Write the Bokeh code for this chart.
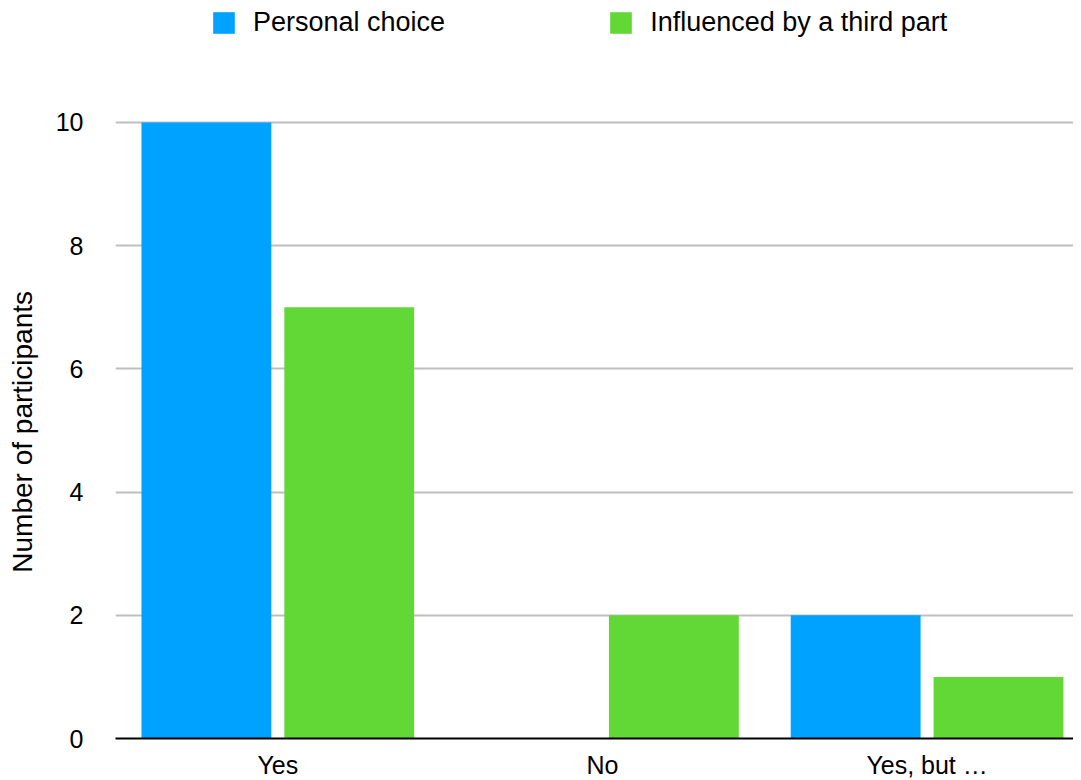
from bokeh.plotting import figure
from bokeh.models import Range1d, FixedTicker, Legend, LegendItem, ColumnDataSource
from bokeh.transform import dodge
from bokeh.embed import file_html
from bokeh.resources import INLINE

categories = ["Yes", "No", "Yes, but \u2026"]
personal_choice = [10, 0, 2]
third_party = [7, 2, 1]
series_names = ["Personal choice", "Influenced by a third part"]
y_ticks = [0, 2, 4, 6, 8, 10]
y_label = "Number of participants"

BLUE = "#00A2FF"
GREEN = "#61D836"
FONT = "Liberation Sans"

src = ColumnDataSource(dict(
    x=list(range(len(categories))),
    pc=personal_choice,
    tp=third_party,
))

# frame reaches the top of the page so the legend (drawn inside it) stays visible
p = figure(frame_width=958, frame_height=730, output_backend="svg", toolbar_location=None,
           x_range=Range1d(-0.5, 2.451), y_range=Range1d(0, 11.85),
           min_border_left=115, min_border_right=0, min_border_top=8, min_border_bottom=26)
p.outline_line_color = None
p.background_fill_color = "white"

r1 = p.vbar(x=dodge("x", -0.22), top="pc", width=0.40, source=src,
            fill_color=BLUE, line_color=None)
r2 = p.vbar(x=dodge("x", 0.22), top="tp", width=0.40, source=src,
            fill_color=GREEN, line_color=None)

p.xgrid.visible = False
p.ygrid.grid_line_color = "#BFBFBF"
p.ygrid.grid_line_width = 2
p.ygrid.ticker = FixedTicker(ticks=y_ticks)

p.yaxis.ticker = FixedTicker(ticks=y_ticks)
p.yaxis.axis_line_color = None
p.yaxis.major_tick_line_color = None
p.yaxis.minor_tick_line_color = None
p.yaxis.major_tick_out = 0
p.yaxis.major_tick_in = 0
p.yaxis.minor_tick_out = 0
p.yaxis.minor_tick_in = 0
p.yaxis.major_label_standoff = 32
# trailing no-break spaces push the visible label down to sit beside the bars
p.yaxis.axis_label = y_label + "\u00a0" * 15
p.yaxis.axis_label_standoff = 15
p.yaxis.axis_label_text_font_style = "normal"

p.xaxis.ticker = FixedTicker(ticks=list(range(len(categories))))
p.xaxis.major_label_overrides = {i: c for i, c in enumerate(categories)}
p.xaxis.axis_line_color = "black"
p.xaxis.axis_line_width = 2
p.xaxis.major_tick_line_color = None
p.xaxis.minor_tick_line_color = None
p.xaxis.major_tick_out = 0
p.xaxis.major_tick_in = 0
p.xaxis.minor_tick_out = 0
p.xaxis.minor_tick_in = 0
p.xaxis.major_label_standoff = 12

for ax in (p.xaxis[0], p.yaxis[0]):
    ax.major_label_text_font = FONT
    ax.major_label_text_font_size = "25px"
    ax.major_label_text_color = "black"
    ax.axis_label_text_font = FONT
    ax.axis_label_text_font_size = "28px"
    ax.axis_label_text_color = "black"

legend = Legend(items=[LegendItem(label=series_names[0], renderers=[r1]),
                       LegendItem(label=series_names[1], renderers=[r2])],
                location=(95, 700), orientation="horizontal",
                glyph_width=27, glyph_height=27, label_standoff=16, spacing=162,
                padding=0, margin=0, border_line_color=None,
                background_fill_alpha=0,
                label_text_font=FONT, label_text_font_size="27px",
                label_text_color="black", label_height=27)
p.add_layout(legend, "center")

open("out.html", "w").write(file_html(p, INLINE))
